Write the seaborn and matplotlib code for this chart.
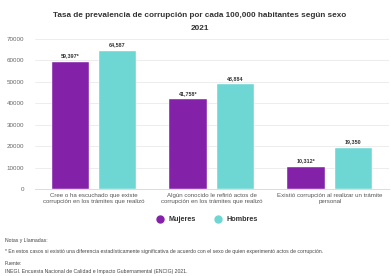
import matplotlib
matplotlib.use('Agg')
import matplotlib.pyplot as plt
from matplotlib.lines import Line2D
import pandas as pd
import seaborn as sns

CATEGORIES = ['Cree o ha escuchado que existe\ncorrupción en los trámites que realizó',
              'Algún conocido le refirió actos de\ncorrupción en los trámites que realizó',
              'Existió corrupción al realizar un trámite\npersonal']
MUJERES = [59397, 41758, 10312]
HOMBRES = [64587, 48884, 19350]
MUJERES_LABELS = ['59,397*', '41,758*', '10,312*']
HOMBRES_LABELS = ['64,587', '48,884', '19,350']
SEXES = ['Mujeres', 'Hombres']
COLORS = ['#8322A8', '#6ED6D3']

DATA = pd.DataFrame({'categoria': CATEGORIES * 2,
                     'sexo': ['Mujeres'] * 3 + ['Hombres'] * 3,
                     'valor': MUJERES + HOMBRES})

sns.set_style('white')
plt.rcParams['font.family'] = ['Liberation Sans', 'DejaVu Sans']

fig = plt.figure(figsize=(3.91, 2.76), dpi=100)
ax = fig.add_axes([0.0895, 0.315, 0.905, 0.544])

sns.barplot(data=DATA, x='categoria', y='valor', hue='sexo', hue_order=SEXES,
            palette=COLORS, saturation=1, width=0.8, gap=0.2, legend=False, ax=ax,
            edgecolor='white', linewidth=0.3)

for container, labels in zip(ax.containers, [MUJERES_LABELS, HOMBRES_LABELS]):
    ax.bar_label(container, labels=labels, padding=2.5, fontsize=3.9,
                 color='#333333', fontweight='bold')

ax.set_ylim(0, 70000)
ax.set_yticks(range(0, 70001, 10000))
ax.set_xlim(-0.5, 2.5)
ax.grid(axis='y', color='#e6e6e6', linewidth=0.5)
ax.set_axisbelow(True)
for s in ['top', 'right', 'left']:
    ax.spines[s].set_visible(False)
ax.spines['bottom'].set_color('#ccd6eb')
ax.spines['bottom'].set_linewidth(0.6)
ax.set_xlabel('')
ax.set_ylabel('')
ax.tick_params(axis='y', labelsize=4.5, labelcolor='#666666', length=0, pad=8)
ax.tick_params(axis='x', labelsize=4.4, labelcolor='#555555', length=0, pad=3)
ax.set_xticks([-0.5, 0.5, 1.5, 2.5], minor=True)
ax.tick_params(axis='x', which='minor', length=4, color='#ccd6eb', width=0.6)

fig.text(0.51, 0.945, 'Tasa de prevalencia de corrupción por cada 100,000 habitantes según sexo',
         ha='center', va='center', fontsize=5.9, fontweight='bold', color='#333333')
fig.text(0.51, 0.898, '2021', ha='center', va='center', fontsize=5.9,
         fontweight='bold', color='#333333')

handles = [Line2D([], [], marker='o', linestyle='', markersize=5, color=c) for c in COLORS]
fig.legend(handles, SEXES, loc='center', bbox_to_anchor=(0.525, 0.203), ncol=2,
           frameon=False, prop={'size': 5.2, 'weight': 'bold'}, handletextpad=0.2,
           columnspacing=2.0, labelcolor='#333333')

notes = ['Notas y Llamadas:',
         '* En estos casos si existió una diferencia estadísticamente significativa de acuerdo con el sexo de quien experimentó actos de corrupción.',
         'Fuente:',
         'INEGI. Encuesta Nacional de Calidad e Impacto Gubernamental (ENCIG) 2021.']
for y, txt in zip([0.130, 0.087, 0.047, 0.015], notes):
    fig.text(0.012, y, txt, ha='left', va='center', fontsize=3.7, color='#444444')

fig.savefig('out.png', dpi=100)
